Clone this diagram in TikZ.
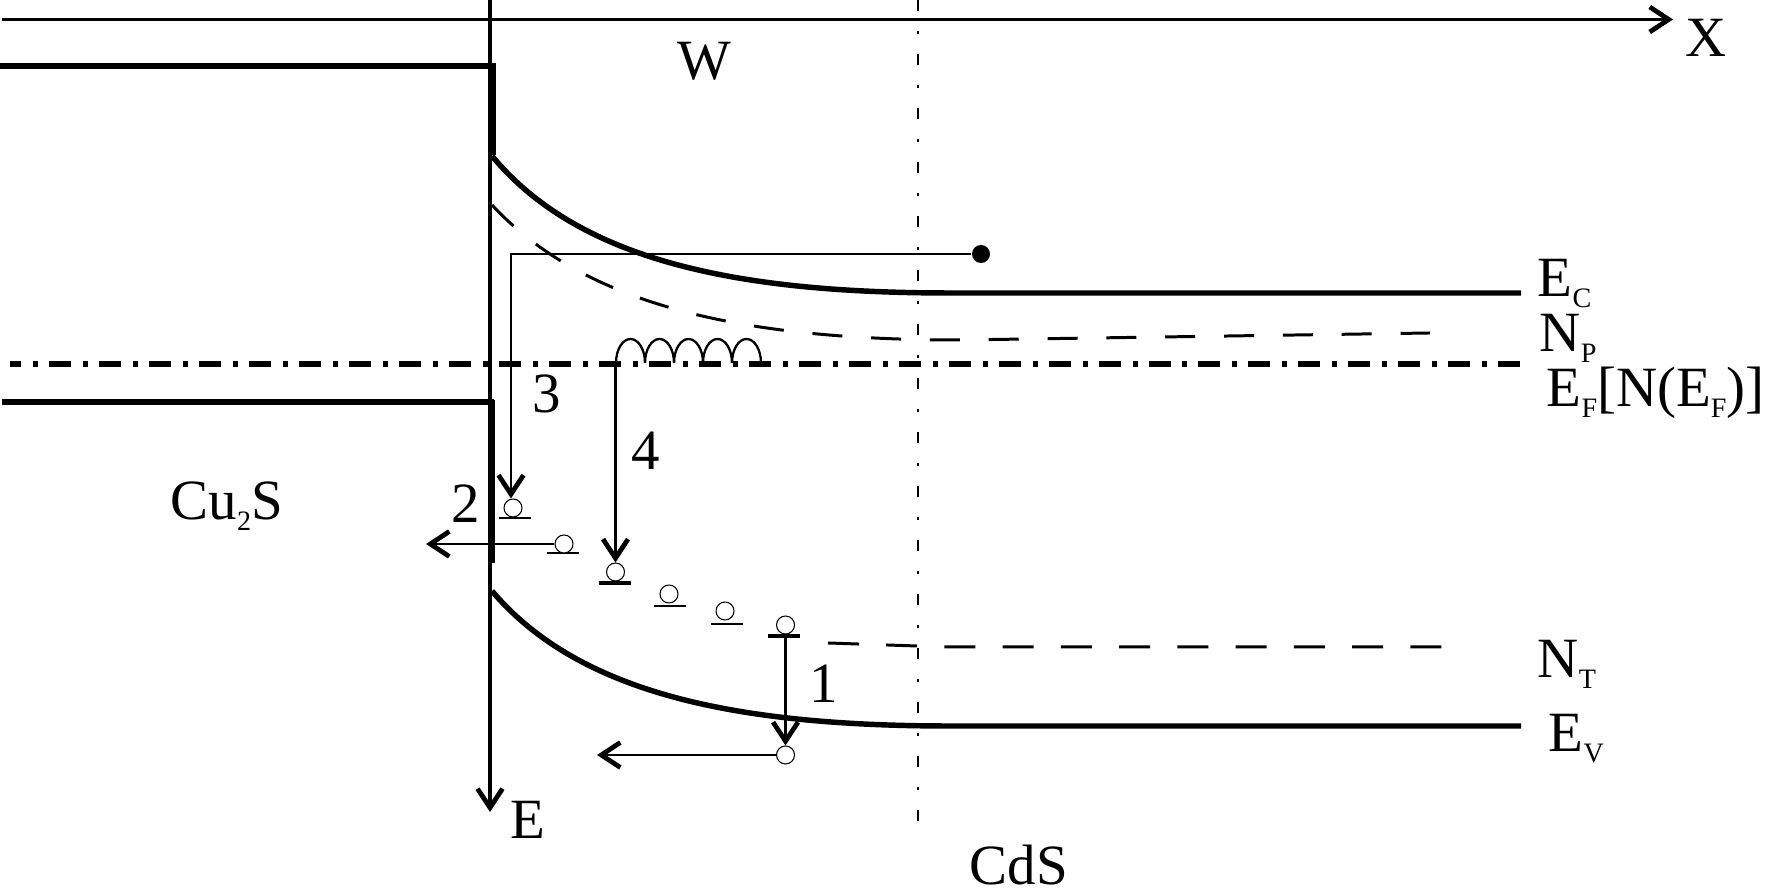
\documentclass[tikz,border=0pt]{standalone}
\usepackage{fontspec}
\setmainfont{Liberation Serif}
\usepackage{xcolor}
\usetikzlibrary{arrows.meta,calc}
\tikzset{
  figband/.style={draw=black,line width=1.55pt},
  figaxis/.style={-{Straight Barb[length=1.9mm,width=2.5mm,line width=1.35pt]},draw=black,line width=0.85pt},
  figflow/.style={-{Straight Barb[length=1.9mm,width=2.5mm,line width=1.35pt]},draw=black,line width=0.8pt},
  figdash/.style={draw=black,line width=0.85pt},
  figfermi/.style={draw=black,line width=1.45pt,dash pattern=on 6.26pt off 3.41pt on 1.42pt off 3.13pt},
  figbound/.style={draw=black,line width=0.77pt,dash pattern=on 3.13pt off 5.69pt on 0.85pt off 5.69pt},
  fighole/.style={circle,draw=black,line width=0.3pt,fill=white,minimum size=1.8mm,inner sep=0pt},
  figlabel/.style={font=\fontsize{16.2}{18}\selectfont,text=black,anchor=base west,inner sep=0pt},
}
\newcommand{\SubText}[1]{\raisebox{-3pt}{\fontsize{8}{9}\selectfont #1}}

\begin{document}
\begin{tikzpicture}[x=1cm,y=1cm]
\useasboundingbox (0,0) rectangle (17.65,8.90);

% Axes.
\coordinate (xstart) at (0.02,8.705);
\coordinate (xtip) at (16.73,8.705);
\coordinate (etop) at (4.90,8.90);
\coordinate (etip) at (4.90,0.78);
\draw[figaxis] (xstart) -- (xtip);
\draw[figaxis,line width=1.15pt] (etop) -- (etip);
\node[figlabel] (xlab) at (16.85,8.33) {X};
\node[figlabel] (elab) at (5.10,0.51) {E};

% Metal side: Cu2S levels.
\draw[figband] (0,8.24) -- (4.93,8.24) -- (4.93,7.35);
\draw[figband] (0.02,4.88) -- (4.94,4.88);
\draw[line width=1.9pt] (4.92,4.90) -- (4.92,4.21);
\draw[line width=1.5pt] (4.92,4.21) -- (4.92,3.27);

% Boundary of W.
\draw[figbound] (9.18,8.90) -- (9.18,0.68);

% Bands.
\draw[figband] (4.92,7.34) .. controls (5.80,6.28) and (7.40,5.97) .. (9.50,5.97) -- (15.21,5.97);
\draw[figband] (4.92,2.99) .. controls (5.80,1.95) and (7.40,1.64) .. (9.50,1.64) -- (15.21,1.64);
\draw[figdash,dash pattern=on 8.54pt off 8.2pt] (4.92,6.85) .. controls (5.85,5.85) and (7.40,5.50) .. (9.60,5.50) -- (14.30,5.57);
\draw[figdash,dash pattern=on 8.82pt off 7.75pt] (8.28,2.47) -- (9.17,2.44) -- (9.45,2.43) -- (14.42,2.43);
\draw[figfermi,dash phase=3.13pt] (0.10,5.26) -- (15.21,5.26);

% Coil on the Fermi level.
\foreach \x in {6.16,6.45,6.74,7.03,7.32}{
  \draw[line width=0.65pt] (\x,5.27) arc[start angle=180,end angle=0,x radius=0.145,y radius=0.24];
}

% Trap levels: hole x, hole y, bar x, bar y, bar width.
\foreach \n/\cx/\cy/\bx/\by/\bw in {1/5.13/3.82/5.145/3.72/0.7pt,2/5.64/3.46/5.63/3.37/0.7pt,3/6.155/3.18/6.15/3.07/1pt,4/6.69/2.96/6.70/2.84/0.7pt,5/7.25/2.79/7.265/2.66/0.7pt,6/7.855/2.65/7.84/2.54/1pt}{
  \draw[line width=\bw] (\bx-0.16,\by) -- (\bx+0.16,\by);
  \node[fighole] (hole\n) at (\cx,\cy) {};
}
\node[fighole] (holeV) at (7.855,1.35) {};
\fill[black] (9.81,6.36) circle (0.09);
\node[circle,minimum size=1.8mm,inner sep=0pt] (electron) at (9.81,6.36) {};

% Transitions.
\coordinate (threeturn) at (5.11,6.36);
\coordinate (fourtop) at (6.155,5.26);
\coordinate (onetop) at (7.855,2.54);
\coordinate (twotip) at (4.26,3.46);
\coordinate (holetip) at (5.97,1.35);
\draw[figflow] (electron.west) -- (threeturn) -- (threeturn |- hole1.north);
\draw[figflow] (hole2.west) -- (twotip);
\draw[figflow] (fourtop) -- (hole3.north);
\draw[figflow] (onetop) -- (hole6.north |- holeV.north);
\draw[figflow] (holeV.west) -- (holetip);
\node[figlabel] (numone) at (8.09,1.87) {1};
\node[figlabel] (numtwo) at (4.51,3.67) {2};
\node[figlabel] (numthree) at (5.32,4.77) {3};
\node[figlabel] (numfour) at (6.31,4.20) {4};

% Region and level labels.
\node[figlabel] (wlab) at (6.77,8.10) {W};
\node[figlabel] (cutwo) at (1.70,3.70) {Cu\SubText{2}S};
\node[figlabel] (cds) at (9.69,0.05) {CdS};
\node[figlabel] (eclab) at (15.37,5.93) {E\SubText{C}};
\node[figlabel] (nplab) at (15.39,5.38) {N\SubText{P}};
\node[figlabel] (eflab) at (15.46,4.83) {E\SubText{F}[N(E\SubText{F})]};
\node[figlabel] (ntlab) at (15.37,2.12) {N\SubText{T}};
\node[figlabel] (evlab) at (15.48,1.38) {E\SubText{V}};
\end{tikzpicture}
\end{document}
